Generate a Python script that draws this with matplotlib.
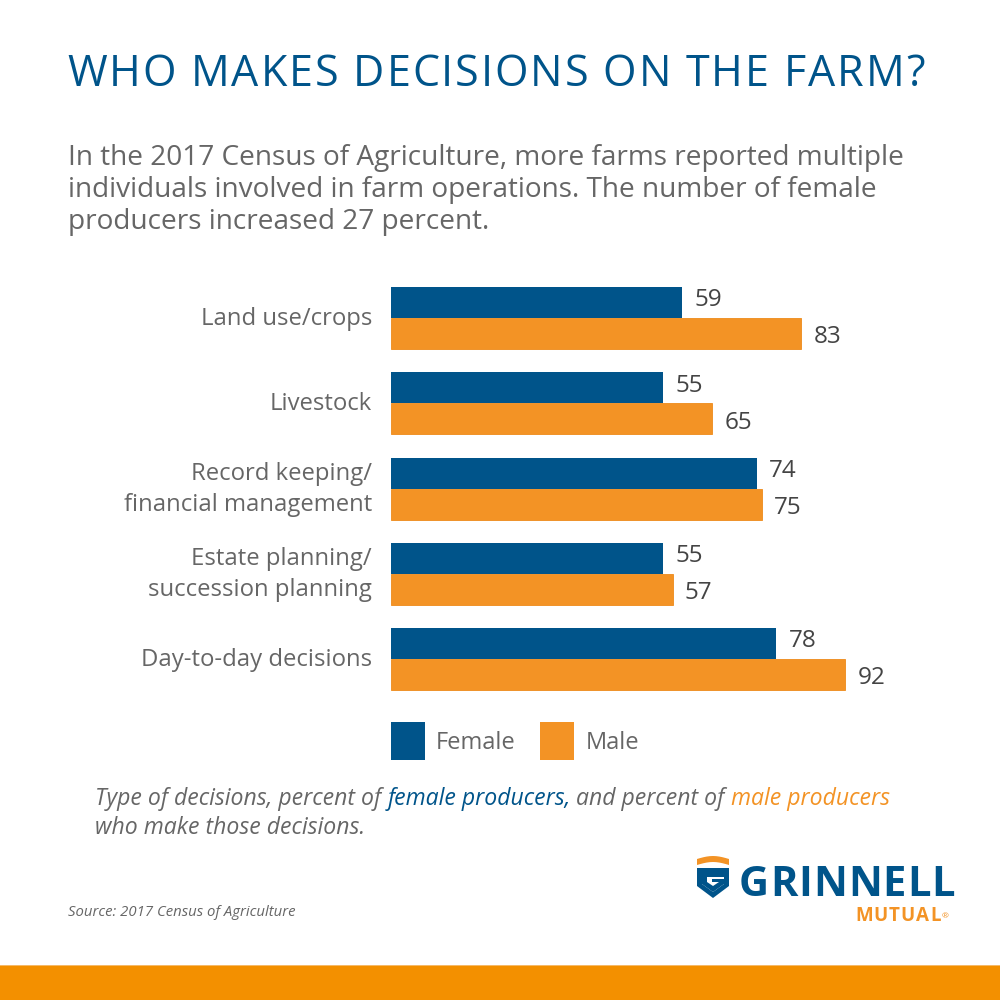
import matplotlib
matplotlib.use("Agg")
import matplotlib.pyplot as plt
from matplotlib.patches import Rectangle, Polygon
import numpy as np

categories = ["Land use/crops", "Livestock", "Record keeping/\nfinancial management",
              "Estate planning/\nsuccession planning", "Day-to-day decisions"]
female = [59, 55, 74, 55, 78]
male = [83, 65, 75, 57, 92]
series_names = ["Female", "Male"]

BLUE = "#00548A"
ORANGE = "#F39325"
GRAY = "#666666"
DARK = "#444444"
FONT = "Open Sans"

plt.rcParams['font.family'] = [FONT, 'DejaVu Sans']

W = H = 1000
fig = plt.figure(figsize=(10, 10), dpi=100)
fig.patch.set_facecolor("white")

def fx(x): return x / W
def fy(y): return 1 - y / H

# axes placement (pixel coordinates from reference)
x0 = 391
ppu = 4.94
xmax = 120
spacing = 85.25
top_center = 318
ax_top = top_center - spacing / 2
ax_bot = top_center + 4 * spacing + spacing / 2
ax = fig.add_axes([fx(x0), fy(ax_bot), xmax * ppu / W, (ax_bot - ax_top) / H])
ax.set_xlim(0, xmax)
ax.set_ylim(len(categories) - 0.5, -0.5)
ax.axis("off")

y = np.arange(len(categories))
bh = 31 / spacing
ax.barh(y - bh / 2, female, height=bh, color=BLUE)
ax.barh(y + bh / 2, male, height=bh, color=ORANGE, edgecolor="#EE8A1A", linewidth=0.6)
for i in range(len(categories)):
    ax.text(female[i] + 2.5, y[i] - bh / 2 - 0.025, str(female[i]), va="center", ha="left",
            fontsize=17.5, color=DARK)
    ax.text(male[i] + 2.5, y[i] + bh / 2 + 0.045, str(male[i]), va="center", ha="left",
            fontsize=17.5, color=DARK)
    ax.text(-19 / ppu, y[i] + 0.01, categories[i], va="center", ha="right", fontsize=17.2,
            color=GRAY, linespacing=1.42)

fig.canvas.draw()
renderer = fig.canvas.get_renderer()

# text with letter tracking
def tracked(x, yy, s, size, color, track, **kw):
    cx = x
    for ch in s:
        t = fig.text(fx(cx), fy(yy), ch, fontsize=size, color=color, va="center",
                     ha="left", **kw)
        if ch == " ":
            probe = fig.text(0, 0, "a a", fontsize=size, **kw)
            probe2 = fig.text(0, 0, "aa", fontsize=size, **kw)
            w = probe.get_window_extent(renderer).width - probe2.get_window_extent(renderer).width
            probe.remove(); probe2.remove()
        else:
            w = t.get_window_extent(renderer).width
        cx += w + track

tracked(67, 75, "WHO MAKES DECISIONS ON THE FARM?", 31, BLUE, 1.9)

fig.text(fx(68), fy(190), "In the 2017 Census of Agriculture, more farms reported multiple\n"
         "individuals involved in farm operations. The number of female\n"
         "producers increased 27 percent.", fontsize=20.2, color=GRAY, va="center",
         ha="left", linespacing=1.17)

# legend
fig.patches.append(Rectangle((fx(391), fy(760)), 34 / W, 38 / H, transform=fig.transFigure,
                             facecolor=BLUE, edgecolor="none"))
fig.text(fx(436), fy(743), series_names[0], fontsize=17, color=GRAY, va="center", ha="left")
fig.patches.append(Rectangle((fx(540), fy(760)), 34 / W, 38 / H, transform=fig.transFigure,
                             facecolor=ORANGE, edgecolor="none"))
fig.text(fx(586), fy(743), series_names[1], fontsize=17, color=GRAY, va="center", ha="left")

# caption with colored parts
parts = [("Type of decisions, percent of ", GRAY), ("female producers,", BLUE),
         (" and percent of ", GRAY), ("male producers", ORANGE)]
cx = fx(95)
for txt, col in parts:
    t = fig.text(cx, fy(799), txt, fontsize=16.6, style="italic", color=col, va="center", ha="left")
    bb = t.get_window_extent(renderer=renderer)
    cx += bb.width / W
fig.text(fx(95), fy(828), "who make those decisions.", fontsize=16.6, style="italic",
         color=GRAY, va="center", ha="left")

# source
fig.text(fx(68), fy(913), "Source: 2017 Census of Agriculture", fontsize=10.7, style="italic",
         color=GRAY, va="center", ha="left")

# logo
def poly(pts, color):
    fig.patches.append(Polygon([(fx(a), fy(b)) for a, b in pts], closed=True,
                               transform=fig.transFigure, facecolor=color, edgecolor="none"))

arc_top = [(697 + i * 32 / 10, 859 - 3 * np.sin(np.pi * i / 10)) for i in range(11)]
arc_bot = [(729 - i * 32 / 10, 865 - 3 * np.sin(np.pi * i / 10)) for i in range(11)]
poly(arc_top + arc_bot, ORANGE)
poly([(697, 868), (729, 868), (729, 886), (713, 898), (697, 886)], BLUE)
poly([(702, 873), (724, 873), (724, 884), (713, 892), (702, 884)], "white")
poly([(702, 873), (724, 873), (724, 877), (707, 877), (707, 882), (713, 886), (719, 882),
      (712, 882), (712, 879), (724, 879), (724, 884), (713, 892), (702, 884)], BLUE)
tracked(739, 886, "GRINNELL", 30, BLUE, 0.9, fontweight="bold")
tracked(855, 916, "MUTUAL", 13.5, ORANGE, 1.0, fontweight="bold")
fig.text(fx(942), fy(917), "®", fontsize=6, color=ORANGE, va="center", ha="left")

# bottom band
fig.patches.append(Rectangle((0, 0), 1, 34 / H, transform=fig.transFigure,
                             facecolor="#F39000", edgecolor="none"))
fig.patches.append(Rectangle((0, 34 / H), 1, 1.5 / H, transform=fig.transFigure,
                             facecolor="#F5B968", edgecolor="none"))

fig.savefig("out.png", dpi=100, facecolor="white")
